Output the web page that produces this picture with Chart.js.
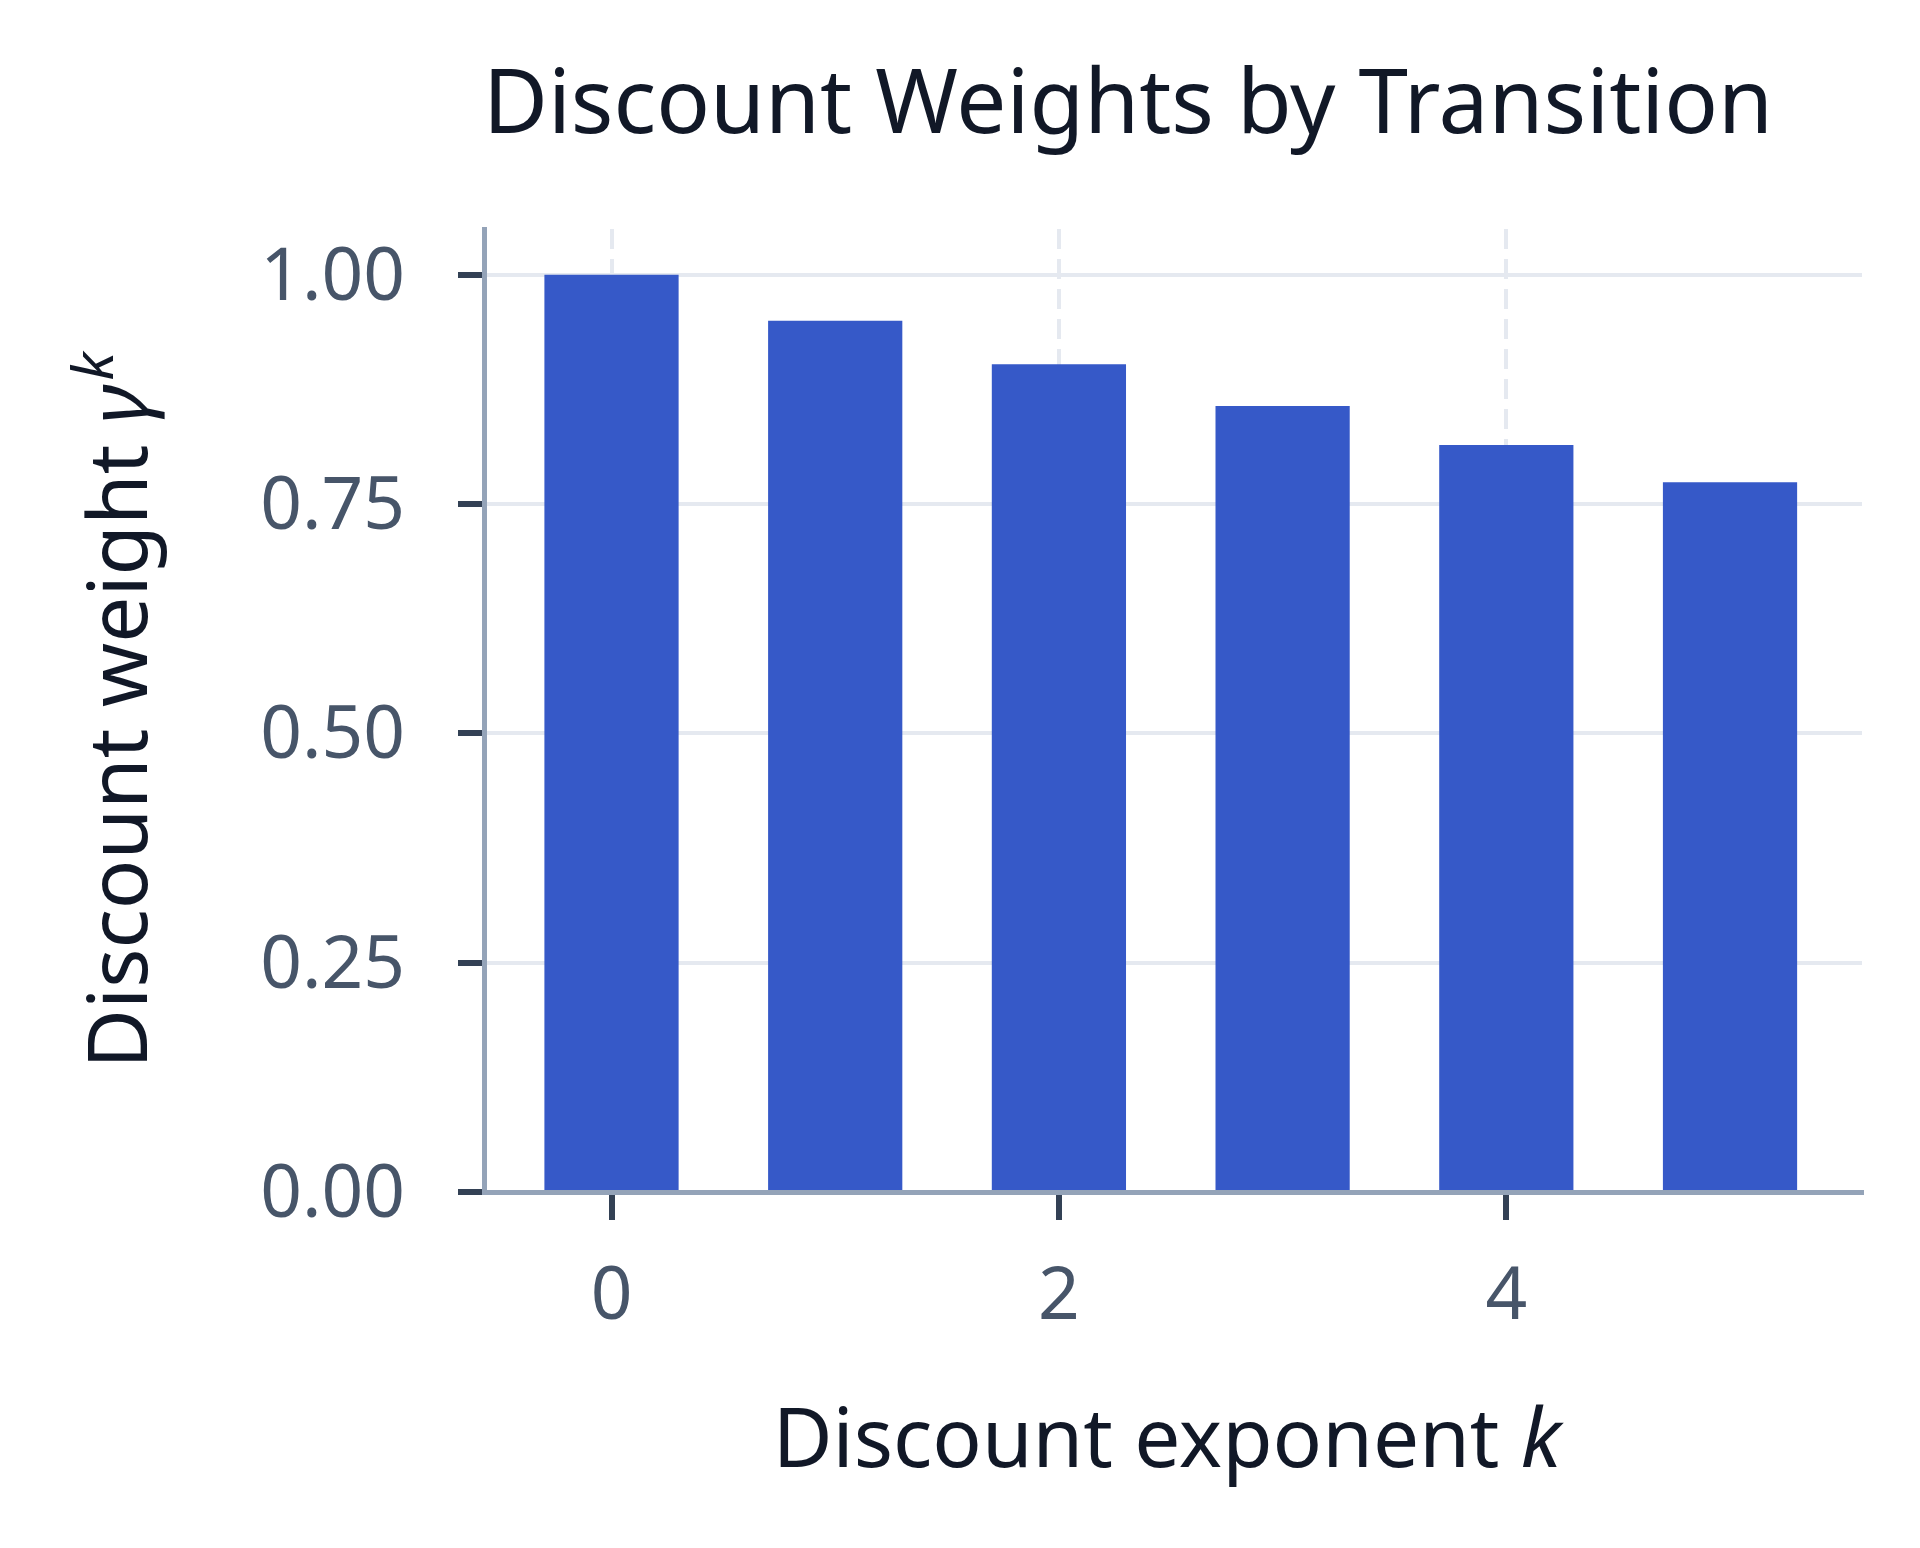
<!DOCTYPE html>
<html>
<head>
<meta charset="utf-8">
<script src="https://cdn.jsdelivr.net/npm/chart.js@4.4.1/dist/chart.umd.min.js"></script>
<style>
  html, body { margin: 0; padding: 0; background: #ffffff; }
  #wrap { width: 1920px; height: 1548px; position: relative; }
  canvas { display: block; }
</style>
</head>
<body>
<div id="wrap"><canvas id="c" width="1920" height="1548"></canvas></div>
<script>
// ---- data ----
const exponents = [0, 1, 2, 3, 4, 5];
const weights = [1.00, 0.95, 0.9025, 0.857, 0.8145, 0.7738];
const xTickValues = [0, 2, 4];
const yTickValues = [0.00, 0.25, 0.50, 0.75, 1.00];
const titleText = 'Discount Weights by Transition';
const xTitleMain = 'Discount exponent ';
const xTitleVar = 'k';
const yTitleMain = 'Discount weight ';
const yTitleVar = 'γ';
const yTitleSup = 'k';

const FONT = '"Noto Sans", "Open Sans", "DejaVu Sans", sans-serif';
const BAR = '#3659c8';
const TITLE_C = '#111827';
const TICK_LABEL_C = '#475569';
const AXIS_C = '#94a3b8';
const TICK_C = '#334155';
const GRID_C = '#e5e9f0';

const points = exponents.map((k, i) => ({ x: k, y: weights[i] }));

// shift the title's horizontal span so it is centred like the reference
const titleSpan = {
  id: 'titleSpan',
  afterLayout(chart) {
    const t = chart.titleBlock;
    if (t) { t.left = 394; t.right = chart.chartArea.right; }
  }
};

const axisTitles = {
  id: 'axisTitles',
  afterDraw(chart) {
    const ctx = chart.ctx;
    const a = chart.chartArea;
    const size = 82;
    const normal = `400 ${size}px ${FONT}`;
    const ital = `italic 400 ${size}px ${FONT}`;
    const supF = `italic 400 ${Math.round(size * 0.7)}px ${FONT}`;
    ctx.save();
    ctx.fillStyle = TITLE_C;
    ctx.textBaseline = 'alphabetic';
    ctx.textAlign = 'left';
    // x title
    ctx.font = normal; const w1 = ctx.measureText(xTitleMain).width;
    ctx.font = ital; const w2 = ctx.measureText(xTitleVar).width;
    let x0 = (a.left + a.right) / 2 - 6 - (w1 + w2) / 2;
    const yb = 1467;
    ctx.font = normal; ctx.fillText(xTitleMain, x0, yb);
    ctx.font = ital; ctx.fillText(xTitleVar, x0 + w1, yb);
    // y title (rotated)
    ctx.font = normal; const v1 = ctx.measureText(yTitleMain).width;
    ctx.font = ital; const v2 = ctx.measureText(yTitleVar).width;
    ctx.font = supF; const v3 = ctx.measureText(yTitleSup).width;
    const total = v1 + v2 + v3 + 4;
    ctx.translate(147, (a.top + a.bottom) / 2);
    ctx.rotate(-Math.PI / 2);
    let s = -total / 2;
    ctx.font = normal; ctx.fillText(yTitleMain, s, 0);
    ctx.font = ital; ctx.fillText(yTitleVar, s + v1, 0);
    ctx.font = supF; ctx.fillText(yTitleSup, s + v1 + v2 + 4, -size * 0.42);
    ctx.restore();
  }
};

new Chart(document.getElementById('c'), {
  type: 'bar',
  data: {
    datasets: [{
      label: 'Discount weight',
      data: points,
      backgroundColor: BAR,
      borderWidth: 0,
      barPercentage: 0.6,
      categoryPercentage: 1.0
    }]
  },
  options: {
    responsive: false,
    devicePixelRatio: 1,
    animation: false,
    layout: { padding: { left: 0, right: 58, top: 0, bottom: 0 } },
    plugins: {
      legend: { display: false },
      tooltip: { enabled: false },
      title: {
        display: true,
        text: titleText,
        color: TITLE_C,
        font: { family: FONT, size: 89, weight: '400', lineHeight: 1.0 },
        padding: { top: 63, bottom: 77 }
      }
    },
    scales: {
      x: {
        type: 'linear',
        offset: false,
        min: -0.57,
        max: 5.59,
        afterFit(scale) { scale.height = 1548 - 1192; },
        afterBuildTicks(scale) { scale.ticks = xTickValues.map(v => ({ value: v })); },
        ticks: {
          includeBounds: false,
          stepSize: 2,
          color: TICK_LABEL_C,
          padding: 42,
          font: { family: FONT, size: 73, lineHeight: 1.0 },
          callback: (v) => String(v)
        },
        grid: {
          offset: false,
          color: GRID_C,
          lineWidth: 4,
          drawTicks: true,
          tickLength: 28,
          tickColor: TICK_C,
          tickWidth: 6,
          tickBorderDash: []
        },
        border: { display: true, color: AXIS_C, width: 5, dash: [20, 10] }
      },
      y: {
        type: 'linear',
        min: 0,
        max: 1.05,
        afterFit(scale) { scale.width = 484; },
        afterBuildTicks(scale) { scale.ticks = yTickValues.map(v => ({ value: v })); },
        ticks: {
          includeBounds: false,
          stepSize: 0.25,
          color: TICK_LABEL_C,
          padding: 53,
          labelOffset: 4,
          font: { family: FONT, size: 73, lineHeight: 1.0 },
          callback: (v) => Number(v).toFixed(2)
        },
        grid: {
          color: GRID_C,
          lineWidth: 4,
          drawTicks: true,
          tickLength: 26,
          tickColor: TICK_C,
          tickWidth: 6
        },
        border: { display: true, color: AXIS_C, width: 5 }
      }
    }
  },
  plugins: [titleSpan, axisTitles]
});
</script>
</body>
</html>
